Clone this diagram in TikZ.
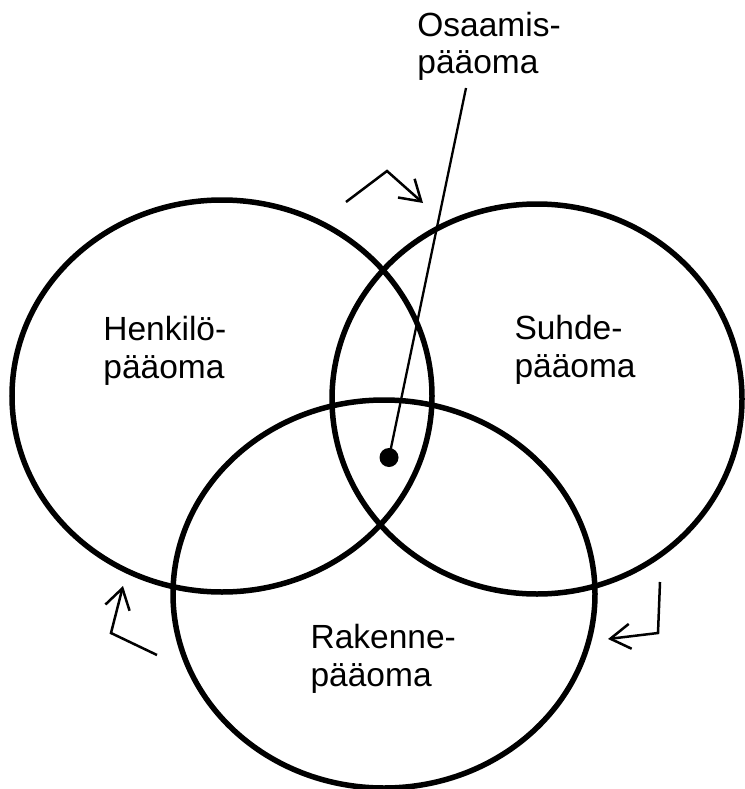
\documentclass[tikz,border=0pt]{standalone}
\usepackage{fontspec}
\setmainfont{Liberation Sans}
\usetikzlibrary{shapes.geometric,arrows.meta}
\tikzset{
  capital/.style={draw=black, ellipse, line width=5.5pt, inner sep=0pt, outer sep=0pt},
  lbl/.style={anchor=base west, align=left, inner sep=0pt, outer sep=0pt,
    font=\fontsize{33.5pt}{37.5pt}\selectfont},
  flow/.style={line width=2.5pt, line join=miter, -{Straight Barb[length=20pt,width=25pt,line width=2.5pt]}},
  pointer/.style={line width=2.3pt}
}
\begin{document}
\begin{tikzpicture}[x=1pt,y=-1pt]
\useasboundingbox (0,0) rectangle (744,789);
\node[capital, minimum width=420pt, minimum height=392pt] (henk) at (222,396) {};
\node[capital, minimum width=410pt, minimum height=390pt] (suhde) at (537,399) {};
\node[capital, minimum width=422pt, minimum height=388pt] (rak) at (384,594) {};
\node[lbl] (thenk) at (103.4,378.3) {Henkilö-\\pääoma};
\node[lbl] (tsuhde) at (514.5,377) {Suhde-\\pääoma};
\node[lbl] (trak) at (310.6,686) {Rakenne-\\pääoma};
\node[lbl] (tosa) at (417.4,74) {Osaamis-\\pääoma};
\node[circle, fill=black, inner sep=0pt, minimum size=19pt] (dot) at (389,457.5) {};
\coordinate (ptop) at (466,88);
\draw[pointer] (dot.center) -- (ptop);
% circulation arrows
\coordinate (a1s) at (346,202);
\coordinate (a1c) at (387,171);
\coordinate (a1t) at (423,203);
\draw[flow] (a1s) -- (a1c) -- (a1t);
\coordinate (a2s) at (660,582);
\coordinate (a2c) at (658,633);
\coordinate (a2t) at (608,639);
\draw[flow] (a2s) -- (a2c) -- (a2t);
\coordinate (a3s) at (157,655);
\coordinate (a3c) at (111,633);
\coordinate (a3t) at (123,586);
\draw[flow] (a3s) -- (a3c) -- (a3t);
\end{tikzpicture}
\end{document}
